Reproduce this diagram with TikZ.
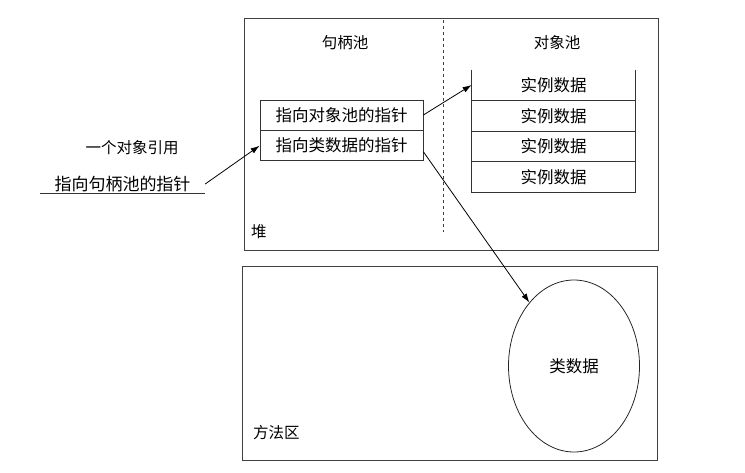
\documentclass[tikz,border=0pt]{standalone}
\usepackage{fontspec}
\newfontfamily\jvmcjk{Noto Sans CJK SC}
\usetikzlibrary{arrows.meta,positioning,shapes.geometric}
\newcommand{\jvmFigMain}{\jvmcjk\fontsize{16.5}{18}\selectfont}
\newcommand{\jvmFigSub}{\jvmcjk\fontsize{15.5}{17}\selectfont}
\newcommand{\jvmFigWide}{\jvmcjk\fontsize{17}{19}\selectfont}
\tikzset{
  %% memory areas: plain thin frames, label sits inside in a corner
  jvmarea/.style={draw=black!75, line width=0.7pt, inner sep=0pt},
  %% one slot of a pool; the pools are stacks of these
  jvmcell/.style={draw=black!80, line width=0.7pt, inner sep=0pt,
    minimum width=163pt, minimum height=30pt, font=\jvmFigMain},
  jvmlbl/.style={inner sep=1pt, font=\jvmFigSub, text=black},
  jvmref/.style={-{Latex[length=9pt,width=6pt]}, draw=black,
    line width=0.8pt},
}

\begin{document}
\begin{tikzpicture}[x=1pt,y=-1pt]
\useasboundingbox (0,0) rectangle (745,472);

%% --- the two memory areas -----------------------------------------
\node[jvmarea, minimum width=414pt, minimum height=232pt] (heap) at (451,134) {};
\node[jvmarea, minimum width=415pt, minimum height=194pt] (meth) at (449.5,363) {};

\node[jvmlbl, anchor=west] (heaplbl) at (250,232) {堆};
\node[jvmlbl, anchor=west] (methlbl) at (252,433) {方法区};

%% handle pool | object pool
\coordinate (divtop) at (443,20);
\coordinate (divbot) at (443,232);
\draw[black!75, line width=0.7pt, dashed] (divtop) -- (divbot);

\node[jvmlbl] (hplbl) at (345,43) {句柄池};
\node[jvmlbl] (oplbl) at (557,43) {对象池};

%% --- handle pool --------------------------------------------------
\node[jvmcell] (hp1) at (341.5,115) {指向对象池的指针};
\node[jvmcell, below=0pt of hp1] (hp2) {指向类数据的指针};

%% --- object pool (open at the top) --------------------------------
\node[jvmcell, draw=none] (od1) at (553.5,85) {实例数据};
\node[jvmcell, draw=none, below=0pt of od1] (od2) {实例数据};
\node[jvmcell, draw=none, below=0pt of od2] (od3) {实例数据};
\node[jvmcell, draw=none, below=0pt of od3] (od4) {实例数据};
\draw[black!80, line width=0.7pt]
  (od1.north west) -- (od4.south west) -- (od4.south east) -- (od1.north east);
\foreach \i in {1,2,3}
  \draw[black!80, line width=0.7pt] (od\i.south west) -- (od\i.south east);

%% --- class data ---------------------------------------------------
\node[ellipse, draw=black!85, line width=0.8pt, minimum width=131pt,
      minimum height=172pt, font=\jvmFigMain] (cls) at (574,366) {类数据};

%% --- the reference held outside -----------------------------------
\node[jvmlbl] (ref) at (132,148) {一个对象引用};
\node[inner sep=1pt, font=\jvmFigWide, minimum width=165pt] (refptr)
  at (122.5,184) {指向句柄池的指针};
\draw[black!80, line width=0.7pt] (refptr.south west) -- (refptr.south east);

%% --- references ---------------------------------------------------
\draw[jvmref] (refptr.east) -- (hp2.west);
\draw[jvmref] (hp1.east) -- (od1.west);
\draw[jvmref] ([yshift=-6pt]hp2.east) -- (cls);

\end{tikzpicture}
\end{document}
